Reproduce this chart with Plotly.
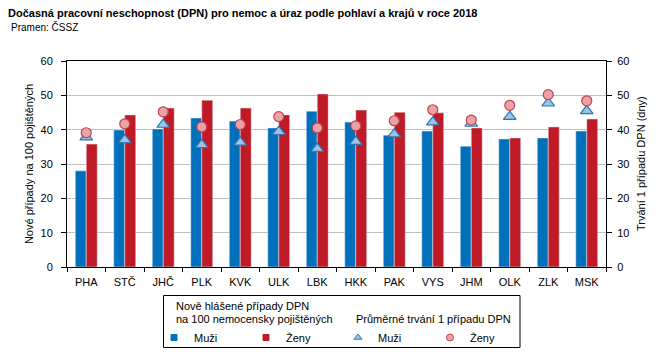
import plotly.graph_objects as go

kraje = ["PHA", "STČ", "JHČ", "PLK", "KVK", "ULK", "LBK", "HKK", "PAK", "VYS", "JHM", "OLK", "ZLK", "MSK"]
pripady_muzi = [28.0, 39.9, 40.2, 43.4, 42.5, 40.5, 45.4, 42.2, 38.4, 39.6, 35.2, 37.3, 37.6, 39.6]
pripady_zeny = [35.8, 44.3, 46.3, 48.6, 46.3, 44.3, 50.4, 45.7, 45.1, 44.9, 40.5, 37.6, 40.8, 43.1]
trvani_muzi = [37.8, 37.0, 41.5, 35.6, 36.3, 39.4, 34.5, 36.5, 38.7, 42.2, 41.8, 43.8, 47.7, 45.5]
trvani_zeny = [39.1, 41.7, 45.2, 40.8, 41.5, 43.8, 40.5, 41.1, 42.6, 45.8, 42.8, 47.1, 50.2, 48.4]
y_ticks = [0, 10, 20, 30, 40, 50, 60]

BLUE = "#0070BA"
RED = "#BE1B26"
TRI_FILL = "#9DC3E6"
TRI_LINE = "#2E75B6"
CIR_FILL = "#E8A3AA"
CIR_LINE = "#C8404A"
FONT = "Liberation Sans, Arial, sans-serif"

fig = go.Figure()
fig.add_trace(go.Bar(x=kraje, y=pripady_muzi, name="Muži", marker_color=BLUE,
                     showlegend=False))
fig.add_trace(go.Bar(x=kraje, y=pripady_zeny, name="Ženy", marker_color=RED,
                     showlegend=False))
fig.add_trace(go.Scatter(x=kraje, y=trvani_muzi, yaxis="y2", mode="markers", name="Muži",
                         marker=dict(symbol="triangle-up", size=11, color=TRI_FILL,
                                     line=dict(color=TRI_LINE, width=1.2)),
                         showlegend=False))
fig.add_trace(go.Scatter(x=kraje, y=trvani_zeny, yaxis="y2", mode="markers", name="Ženy",
                         marker=dict(symbol="circle", size=10, color=CIR_FILL,
                                     line=dict(color=CIR_LINE, width=1.2)),
                         showlegend=False))

# legend entries
leg = [("Muži", "square", 6, BLUE, BLUE),
       ("Ženy", "square", 6, RED, RED),
       ("Muži", "triangle-up", 7, TRI_FILL, TRI_LINE),
       ("Ženy", "circle", 7, CIR_FILL, CIR_LINE)]
for nm, sym, sz, fc, lc in leg:
    fig.add_trace(go.Scatter(x=[None], y=[None], mode="markers", name=nm,
                             marker=dict(symbol=sym, size=sz, color=fc,
                                         line=dict(color=lc, width=1))))

W, H = 656, 355
OFF = 8  # page body margin
# target plot box in screenshot pixels: x 67..606, y 61..267
L = 67 - OFF
T = 61 - OFF
R = W - (606 - OFF)
B = H - (267 - OFF)
pw, ph = W - L - R, H - T - B

def px_x(x):
    return (x - OFF - L) / pw

def px_y(y):
    return (H - B - (y - OFF)) / ph

fig.add_shape(type="rect", xref="paper", yref="paper",
              x0=px_x(163.5), x1=px_x(520), y0=px_y(295.5), y1=px_y(347.5),
              line=dict(color="black", width=1), fillcolor="rgba(0,0,0,0)")

ann_font = dict(family=FONT, size=11, color="black")
fig.add_annotation(xref="paper", yref="paper", x=px_x(174), y=px_y(306), text="Nově hlášené případy DPN",
                   showarrow=False, xanchor="left", yanchor="middle", font=ann_font)
fig.add_annotation(xref="paper", yref="paper", x=px_x(174), y=px_y(319), text="na 100 nemocensky pojištěných",
                   showarrow=False, xanchor="left", yanchor="middle", font=ann_font)
fig.add_annotation(xref="paper", yref="paper", x=px_x(354), y=px_y(319), text="Průměrné trvání 1 případu DPN",
                   showarrow=False, xanchor="left", yanchor="middle", font=ann_font)
fig.add_annotation(xref="paper", yref="paper", x=px_x(8.5), y=px_y(27), text="Pramen: ČSSZ",
                   showarrow=False, xanchor="left", yanchor="middle",
                   font=dict(family=FONT, size=10, color="black"))
# right axis title
fig.add_annotation(xref="paper", yref="paper", x=px_x(641), y=px_y(164), text="Trvání 1 případu DPN (dny)",
                   textangle=-90, showarrow=False, xanchor="center", yanchor="middle", font=ann_font)

fig.update_layout(
    width=W, height=H,
    margin=dict(l=L, r=R, t=T, b=B, pad=0, autoexpand=False),
    paper_bgcolor="white", plot_bgcolor="white",
    font=dict(family=FONT, size=11, color="black"),
    barmode="group", bargap=0.43, bargroupgap=0,
    title=dict(text="<b>Dočasná pracovní neschopnost (DPN) pro nemoc a úraz podle pohlaví a krajů v roce 2018</b>",
               x=0, xanchor="left", y=1 - (13 - OFF) / H, yanchor="middle",
               font=dict(family=FONT, size=11, color="black")),
    xaxis=dict(range=[-0.5, len(kraje) - 0.5], showline=True, linecolor="black", linewidth=1,
               mirror=True, automargin=False,
               ticks="outside", ticklen=4, tickcolor="black", tickson="boundaries",
               ticklabelstandoff=5, showgrid=False, tickfont=dict(size=11)),
    yaxis=dict(range=[0, 60], tickvals=y_ticks, showline=True, linecolor="black", linewidth=1,
               ticks="outside", ticklen=5, tickcolor="black", showgrid=True, automargin=False,
               gridcolor="#BFBFBF", gridwidth=1, zeroline=False, ticklabelstandoff=6,
               title=dict(text="Nové případy na 100 pojištěných", standoff=4, font=dict(size=11))),
    yaxis2=dict(range=[0, 60], tickvals=y_ticks, overlaying="y", side="right", automargin=False,
                showline=True, linecolor="black", linewidth=1, ticks="outside", ticklen=5,
                tickcolor="black", showgrid=False, zeroline=False, ticklabelstandoff=3),
    legend=dict(orientation="h", xref="container", yref="container",
                x=146 / W, y=1 - 315 / H, xanchor="left", yanchor="top",
                entrywidth=47, entrywidthmode="pixels", itemwidth=30,
                font=dict(size=11), bgcolor="rgba(0,0,0,0)", borderwidth=0,
                tracegroupgap=0),
)

fig.write_html("out.html")
